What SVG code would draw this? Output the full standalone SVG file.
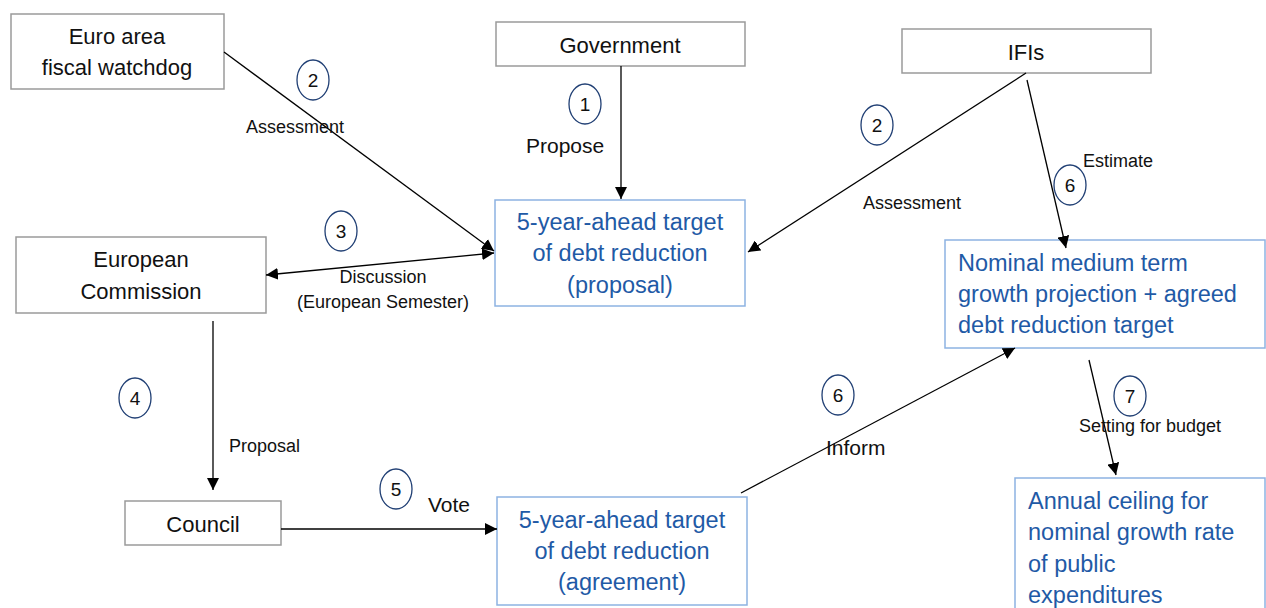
<svg xmlns="http://www.w3.org/2000/svg" width="1266" height="608" viewBox="0 0 1266 608">
  <style>
    .actor { fill: #ffffff; stroke: #9a9a9a; stroke-width: 1.5; }
    .target { fill: #ffffff; stroke: #8db3e2; stroke-width: 1.5; }
    .actor-text { font-family: "Liberation Sans", Arial, sans-serif; font-size: 22px; fill: #111111; text-anchor: middle; }
    .target-text { font-family: "Liberation Sans", Arial, sans-serif; font-size: 23.5px; fill: #1f5aa6; }
    .edge { stroke: #000000; stroke-width: 1.3; fill: none; }
    .label { font-family: "Liberation Sans", Arial, sans-serif; font-size: 18px; fill: #111111; }
    .label-lg { font-family: "Liberation Sans", Arial, sans-serif; font-size: 21px; fill: #111111; }
    .step { fill: #ffffff; stroke: #203f74; stroke-width: 1.3; }
    .step-text { font-family: "Liberation Sans", Arial, sans-serif; font-size: 19px; fill: #111111; text-anchor: middle; }
  </style>
  <defs>
    <marker id="arrow" viewBox="0 0 10 10" refX="10" refY="5" markerWidth="12" markerHeight="12" markerUnits="userSpaceOnUse" orient="auto-start-reverse">
      <path d="M0,0 L10,5 L0,10 Z" fill="#000000"/>
    </marker>
  </defs>

  <rect width="1266" height="608" fill="#ffffff"/>

  <!-- nodes -->
  <g id="node-watchdog">
    <rect class="actor" x="11" y="14" width="213" height="75"/>
    <text class="actor-text" x="117" y="44">Euro area</text>
    <text class="actor-text" x="117" y="75">fiscal watchdog</text>
  </g>
  <g id="node-government">
    <rect class="actor" x="496" y="22" width="249" height="44"/>
    <text class="actor-text" x="620" y="53">Government</text>
  </g>
  <g id="node-ifis">
    <rect class="actor" x="902" y="29" width="249" height="44"/>
    <text class="actor-text" x="1026" y="60">IFIs</text>
  </g>
  <g id="node-commission">
    <rect class="actor" x="16" y="237" width="250" height="76"/>
    <text class="actor-text" x="141" y="267">European</text>
    <text class="actor-text" x="141" y="299">Commission</text>
  </g>
  <g id="node-council">
    <rect class="actor" x="125" y="501" width="156" height="44"/>
    <text class="actor-text" x="203" y="532">Council</text>
  </g>
  <g id="node-proposal">
    <rect class="target" x="495" y="200" width="250" height="106"/>
    <text class="target-text" x="620" y="230" text-anchor="middle">5-year-ahead target</text>
    <text class="target-text" x="620" y="261" text-anchor="middle">of debt reduction</text>
    <text class="target-text" x="620" y="293" text-anchor="middle">(proposal)</text>
  </g>
  <g id="node-projection">
    <rect class="target" x="945" y="240" width="320" height="108"/>
    <text class="target-text" x="958" y="271">Nominal medium term</text>
    <text class="target-text" x="958" y="302">growth projection + agreed</text>
    <text class="target-text" x="958" y="333">debt reduction target</text>
  </g>
  <g id="node-agreement">
    <rect class="target" x="497" y="497" width="250" height="108"/>
    <text class="target-text" x="622" y="528" text-anchor="middle">5-year-ahead target</text>
    <text class="target-text" x="622" y="559" text-anchor="middle">of debt reduction</text>
    <text class="target-text" x="622" y="590" text-anchor="middle">(agreement)</text>
  </g>
  <g id="node-ceiling">
    <rect class="target" x="1015" y="478" width="250" height="140"/>
    <text class="target-text" x="1028" y="509">Annual ceiling for</text>
    <text class="target-text" x="1028" y="540">nominal growth rate</text>
    <text class="target-text" x="1028" y="572">of public</text>
    <text class="target-text" x="1028" y="603">expenditures</text>
  </g>

  <!-- connectors -->
  <g id="connectors">
    <line class="edge" x1="224" y1="52" x2="494" y2="251" marker-end="url(#arrow)"/>
    <line class="edge" x1="621" y1="66" x2="621" y2="199" marker-end="url(#arrow)"/>
    <line class="edge" x1="1026" y1="73" x2="748" y2="252" marker-end="url(#arrow)"/>
    <line class="edge" x1="1027" y1="80" x2="1066" y2="248" marker-end="url(#arrow)"/>
    <line class="edge" x1="266" y1="275" x2="494" y2="253" marker-start="url(#arrow)" marker-end="url(#arrow)"/>
    <line class="edge" x1="213" y1="321" x2="213" y2="490" marker-end="url(#arrow)"/>
    <line class="edge" x1="281" y1="529" x2="497" y2="529" marker-end="url(#arrow)"/>
    <line class="edge" x1="741" y1="493" x2="1015" y2="348" marker-end="url(#arrow)"/>
    <line class="edge" x1="1089" y1="360" x2="1116" y2="475" marker-end="url(#arrow)"/>

    <!-- connector labels -->
    <text class="label" x="246" y="133">Assessment</text>
    <text class="label-lg" x="526" y="153">Propose</text>
    <text class="label" x="863" y="209">Assessment</text>
    <text class="label" x="1083" y="167">Estimate</text>
    <text class="label" x="383" y="283" text-anchor="middle">Discussion</text>
    <text class="label" x="383" y="308" text-anchor="middle">(European Semester)</text>
    <text class="label" x="229" y="452">Proposal</text>
    <text class="label-lg" x="428" y="512">Vote</text>
    <text class="label-lg" x="826" y="455">Inform</text>
    <text class="label" x="1079" y="432">Setting for budget</text>
  </g>

  <!-- step markers -->
  <g id="steps">
    <ellipse class="step" cx="313" cy="80" rx="16" ry="20"/>
    <text class="step-text" x="313" y="87">2</text>
    <ellipse class="step" cx="585" cy="104" rx="16" ry="20"/>
    <text class="step-text" x="585" y="111">1</text>
    <ellipse class="step" cx="877" cy="125" rx="16" ry="20"/>
    <text class="step-text" x="877" y="132">2</text>
    <ellipse class="step" cx="1070" cy="185" rx="16" ry="20"/>
    <text class="step-text" x="1070" y="192">6</text>
    <ellipse class="step" cx="341" cy="231" rx="16" ry="20"/>
    <text class="step-text" x="341" y="238">3</text>
    <ellipse class="step" cx="135" cy="398" rx="16" ry="20"/>
    <text class="step-text" x="135" y="405">4</text>
    <ellipse class="step" cx="396" cy="489" rx="16" ry="20"/>
    <text class="step-text" x="396" y="496">5</text>
    <ellipse class="step" cx="838" cy="395" rx="16" ry="20"/>
    <text class="step-text" x="838" y="402">6</text>
    <ellipse class="step" cx="1130" cy="396" rx="16" ry="20"/>
    <text class="step-text" x="1130" y="403">7</text>
  </g>
</svg>
